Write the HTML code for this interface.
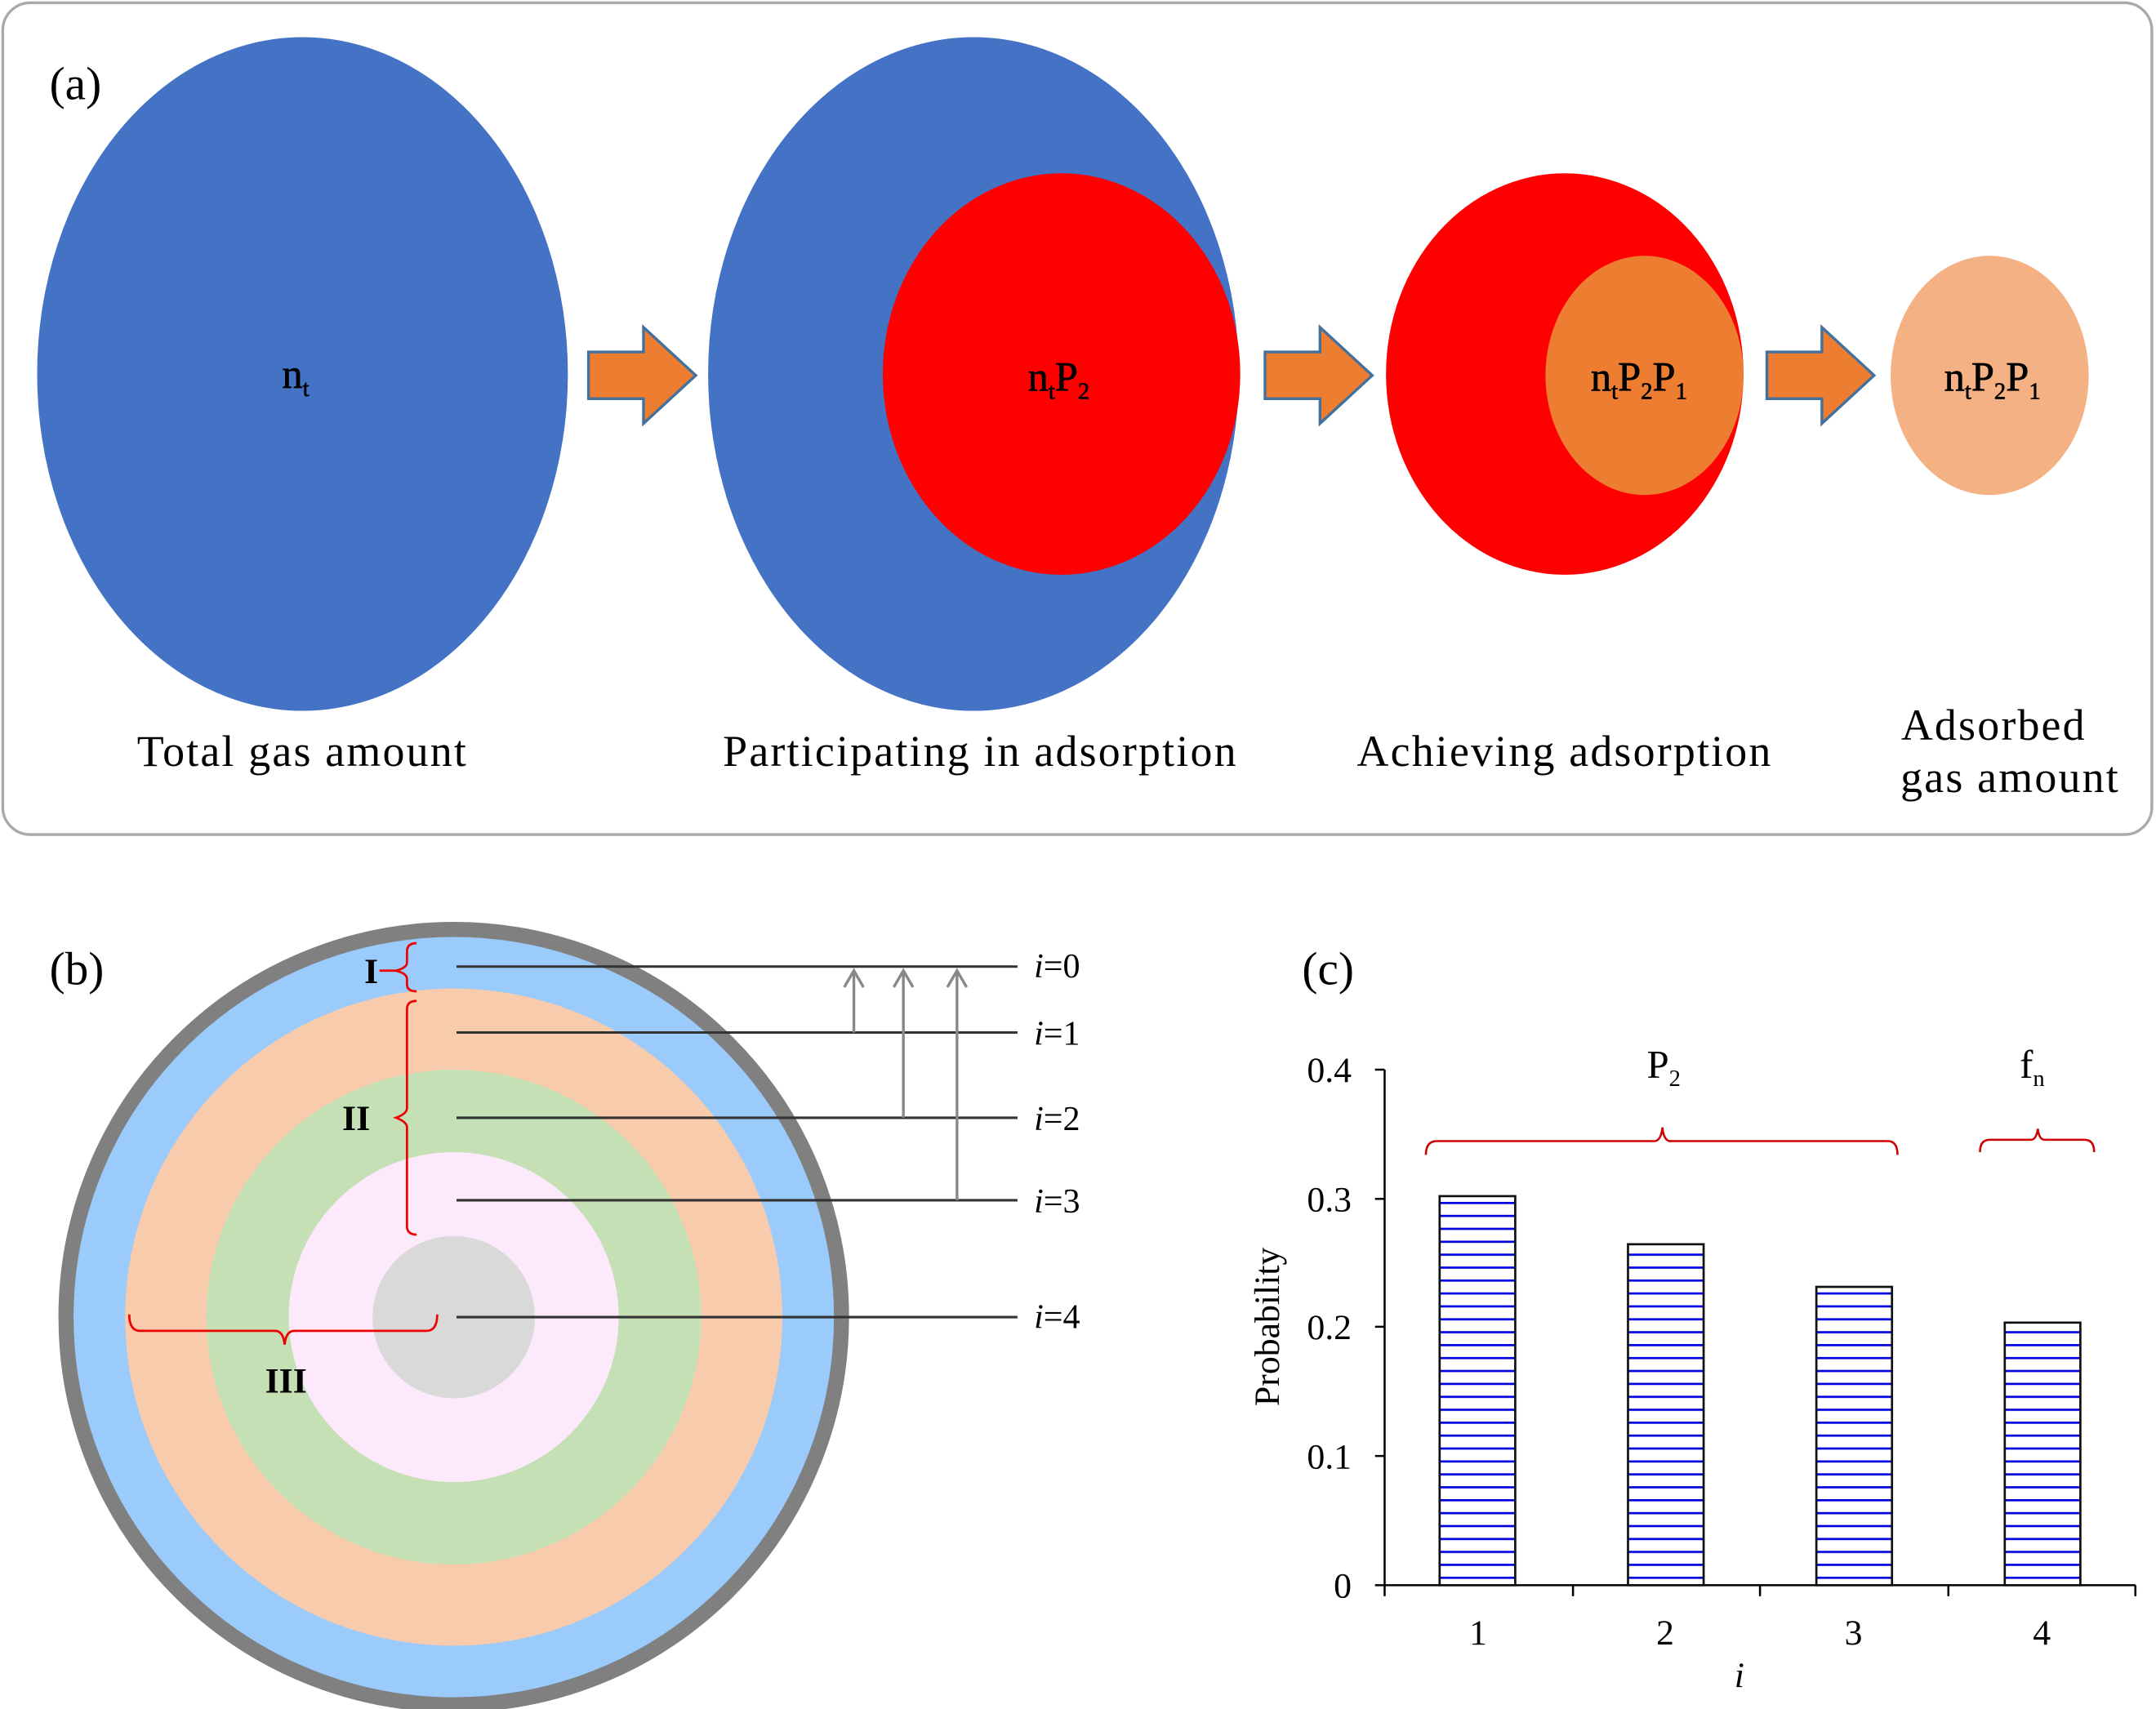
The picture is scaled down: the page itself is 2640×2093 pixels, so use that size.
<!DOCTYPE html>
<html><head><style>html,body{margin:0;padding:0;background:#fff}svg{display:block}</style></head><body>
<svg width="2640" height="2093" viewBox="0 0 1568 1243" xmlns="http://www.w3.org/2000/svg" font-family="'Liberation Serif', serif">
<defs>
<pattern id="st" x="0" y="0" width="10" height="9.4" patternUnits="userSpaceOnUse">
<rect width="10" height="9.4" fill="#fff"/><rect y="0" width="10" height="1.6" fill="#0000e0"/></pattern>
</defs>
<rect x="2" y="2" width="1563" height="605" rx="20" fill="#fff" stroke="#aaa" stroke-width="2"/>
<text x="36" y="72" font-size="34">(a)</text>
<ellipse cx="220" cy="272" rx="193" ry="245" fill="#4472C4"/>
<ellipse cx="708" cy="272" rx="193" ry="245" fill="#4472C4"/>
<ellipse cx="772" cy="272" rx="130" ry="146" fill="#FF0000"/>
<ellipse cx="1138" cy="272" rx="130" ry="146" fill="#FF0000"/>
<ellipse cx="1196" cy="273" rx="72" ry="87" fill="#ED7D31"/>
<ellipse cx="1447" cy="273" rx="72" ry="87" fill="#F4B183"/>
<g fill="#ED7D31" stroke="#41719C" stroke-width="2">
<path d="M428 256 H468 V238 L506 273 L468 308 V290 H428 Z"/>
<path d="M920 256 H960 V238 L998 273 L960 308 V290 H920 Z"/>
<path d="M1285 256 H1325 V238 L1363 273 L1325 308 V290 H1285 Z"/>
</g>
<g font-size="30" text-anchor="middle" stroke="#000" stroke-width="0.4">
<text x="215" y="282">n<tspan font-size="17" dy="6">t</tspan></text>
<text x="770" y="284">n<tspan font-size="17" dy="6">t</tspan><tspan dy="-6">P</tspan><tspan font-size="17" dy="6">2</tspan></text>
<text x="1192" y="284">n<tspan font-size="17" dy="6">t</tspan><tspan dy="-6">P</tspan><tspan font-size="17" dy="6">2</tspan><tspan dy="-6">P</tspan><tspan font-size="17" dy="6">1</tspan></text>
<text x="1449" y="284">n<tspan font-size="17" dy="6">t</tspan><tspan dy="-6">P</tspan><tspan font-size="17" dy="6">2</tspan><tspan dy="-6">P</tspan><tspan font-size="17" dy="6">1</tspan></text>
</g>
<g font-size="32" text-anchor="middle" letter-spacing="1.3">
<text x="220" y="557">Total gas amount</text>
<text x="713" y="557">Participating in adsorption</text>
<text x="1138" y="557">Achieving adsorption</text>
<text x="1450" y="538">Adsorbed</text>
<text x="1462" y="576">gas amount</text>
</g>
<text x="36" y="716" font-size="34">(b)</text>
<circle cx="330" cy="958" r="282" fill="#9ACBFB" stroke="#808080" stroke-width="11"/>
<circle cx="330" cy="958" r="239" fill="#F8CBAD"/>
<circle cx="330" cy="958" r="180" fill="#C5E0B4"/>
<circle cx="330" cy="958" r="120" fill="#FCE9FC"/>
<circle cx="330" cy="958" r="59" fill="#D9D9D9"/>
<g stroke="#333" stroke-width="1.8">
<line x1="332" y1="703" x2="740" y2="703"/><line x1="332" y1="751" x2="740" y2="751"/>
<line x1="332" y1="813" x2="740" y2="813"/><line x1="332" y1="873" x2="740" y2="873"/>
<line x1="332" y1="958" x2="740" y2="958"/></g>
<g stroke="#888" stroke-width="2" fill="none">
<line x1="621" y1="751" x2="621" y2="706"/><path d="M614 718 L621 706 L628 718"/>
<line x1="657" y1="813" x2="657" y2="706"/><path d="M650 718 L657 706 L664 718"/>
<line x1="696" y1="873" x2="696" y2="706"/><path d="M689 718 L696 706 L703 718"/></g>
<g font-size="25" font-style="italic"><text x="752" y="711">i<tspan font-style="normal">=0</tspan></text>
<text x="752" y="760">i<tspan font-style="normal">=1</tspan></text><text x="752" y="822">i<tspan font-style="normal">=2</tspan></text>
<text x="752" y="882">i<tspan font-style="normal">=3</tspan></text><text x="752" y="966">i<tspan font-style="normal">=4</tspan></text></g>
<g stroke="#e00" stroke-width="1.6" fill="none">
<path d="M303 686 Q296 686 296 692 V700 Q296 704 288 706 Q296 708 296 712 V716 Q296 721 303 721"/>
<path d="M303 728 Q296 728 296 734 V806 Q296 810 288 813 Q296 816 296 820 V892 Q296 898 303 898"/>
<path d="M94 956 Q94 968 102 968 H200 Q206 968 207 978 Q208 968 214 968 H310 Q318 968 318 956"/>
<line x1="276" y1="706" x2="288" y2="706"/></g>
<g font-size="26" font-weight="bold" text-anchor="middle"><text x="270" y="715">I</text><text x="259" y="822">II</text><text x="208" y="1013">III</text></g>
<text x="947" y="716" font-size="34">(c)</text>
<g font-size="26" text-anchor="end"><text x="983" y="787">0.4</text><text x="983" y="881">0.3</text><text x="983" y="974">0.2</text><text x="983" y="1068">0.1</text><text x="983" y="1162">0</text></g>
<g stroke="#000" stroke-width="1.5" fill="none">
<line x1="1007" y1="778" x2="1007" y2="1153"/><line x1="1007" y1="1153" x2="1553" y2="1153"/>
<path d="M1000 778H1007M1000 872H1007M1000 965H1007M1000 1059H1007M1000 1153H1007"/>
<path d="M1144 1153V1161M1280 1153V1161M1417 1153V1161M1553 1153V1161M1007 1153V1161"/></g>
<g fill="url(#st)" stroke="#111" stroke-width="1.6">
<rect x="1047" y="870" width="55" height="283"/><rect x="1184" y="905" width="55" height="248"/>
<rect x="1321" y="936" width="55" height="217"/><rect x="1458" y="962" width="55" height="191"/></g>
<g font-size="26" text-anchor="middle"><text x="1075" y="1196">1</text><text x="1211" y="1196">2</text><text x="1348" y="1196">3</text><text x="1485" y="1196">4</text>
<text x="1265" y="1227" font-style="italic">i</text>
<text x="1210" y="784" font-size="29">P<tspan font-size="17" dy="6">2</tspan></text><text x="1478" y="784" font-size="29">f<tspan font-size="17" dy="6">n</tspan></text></g>
<text transform="translate(930,965) rotate(-90)" font-size="26" text-anchor="middle">Probability</text>
<g stroke="#c00" stroke-width="1.5" fill="none">
<path d="M1037 840 Q1037 830 1045 830 H1203 Q1208 830 1209 820 Q1210 830 1215 830 H1373 Q1380 830 1380 840"/>
<path d="M1440 838 Q1440 829 1447 829 H1477 Q1481 829 1482 821 Q1483 829 1487 829 H1516 Q1523 829 1523 838"/></g>
</svg>
</body></html>
